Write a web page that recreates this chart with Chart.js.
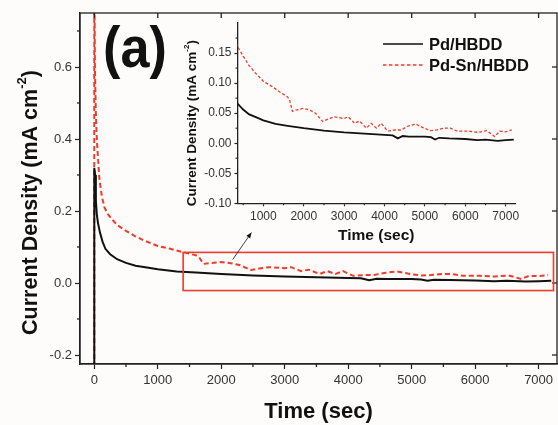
<!DOCTYPE html>
<html>
<head>
<meta charset="utf-8">
<script src="https://cdn.jsdelivr.net/npm/chart.js@4.4.0/dist/chart.umd.min.js"></script>
<style>
    html, body { margin: 0; padding: 0; background: #fdfcfa; }
    #wrap { position: relative; width: 558px; height: 425px; }
    #wrap canvas { position: absolute; left: 0; top: 0; }
</style>
</head>
<body>
<div id="wrap">
    <canvas id="main-chart" width="558" height="425"></canvas>
    <canvas id="inset-chart" width="558" height="425"></canvas>
</div>
<script>
// Pd/HBDD (black solid)
const pdTime = [0, 0, 15, 25, 40, 60, 90, 130, 175, 250, 360, 500, 650, 830, 1000, 1300, 1600, 2000, 2500, 3000,
    3500, 4000, 4200, 4330, 4450, 4600, 5000, 5150, 5250, 5350, 5600, 6000, 6300, 6500, 6800, 7000, 7200];
const pdCurrent = [-0.3, 0.32, 0.3, 0.23, 0.19, 0.165, 0.14, 0.115, 0.095, 0.08, 0.066, 0.056, 0.048, 0.043, 0.038, 0.032, 0.029, 0.025, 0.021, 0.018,
    0.016, 0.014, 0.013, 0.008, 0.012, 0.011, 0.011, 0.010, 0.006, 0.009, 0.008, 0.007, 0.005, 0.006, 0.004, 0.005, 0.006];

// Pd-Sn/HBDD (red dashed)
const pdSnTime = [0, 0, 10, 25, 40, 80, 120, 160, 220, 290, 360, 500, 640, 800, 1000, 1200, 1390, 1600, 1650, 1720,
    1800, 2000, 2150, 2290, 2470, 2600, 2750, 3000, 3100, 3260, 3380, 3550, 3670, 3800, 3920, 4080, 4250, 4410, 4570,
    4770, 4980, 5140, 5300, 5470, 5630, 5800, 6080, 6320, 6530, 6730, 6850, 7000, 7150];
const pdSnCurrent = [-0.3, 0.9, 0.6, 0.47, 0.4, 0.29, 0.24, 0.21, 0.19, 0.175, 0.161, 0.145, 0.13, 0.117, 0.103, 0.095, 0.086, 0.077, 0.072, 0.053,
    0.055, 0.058, 0.055, 0.050, 0.036, 0.040, 0.044, 0.041, 0.044, 0.033, 0.037, 0.025, 0.033, 0.025, 0.033, 0.020, 0.022, 0.022, 0.028,
    0.032, 0.025, 0.021, 0.022, 0.025, 0.025, 0.020, 0.020, 0.018, 0.021, 0.011, 0.020, 0.019, 0.022];

const seriesNames = ['Pd/HBDD', 'Pd-Sn/HBDD'];

// 主图刻度
const mainXTicks = [0, 1000, 2000, 3000, 4000, 5000, 6000, 7000];
const mainXMinor = [500, 1500, 2500, 3500, 4500, 5500, 6500];
const mainYTicks = [-0.2, 0.0, 0.2, 0.4, 0.6];
const mainYMinor = [-0.1, 0.1, 0.3, 0.5, 0.7];

// 插图刻度
const insetXTicks = [1000, 2000, 3000, 4000, 5000, 6000, 7000];
const insetXMinor = [500, 1500, 2500, 3500, 4500, 5500, 6500];
const insetYTicks = [-0.10, -0.05, 0.00, 0.05, 0.10, 0.15];
const insetYMinor = [-0.075, -0.025, 0.025, 0.075, 0.125, 0.175];

// 放大区域框 & 箭头 (数据坐标)
const zoomBoxX = [1400, 7235];
const zoomBoxY = [-0.021, 0.085];
const arrowX = [2180, 2476];
const arrowY = [0.065, 0.14];

const RED = '#ee3b2b';
const INK = '#111111';
const AXIS = '#222222';
const LABEL = '#333333';
const FONT = "'Liberation Sans', Arial, sans-serif";

function toPoints(xs, ys) {
    return xs.map((x, i) => ({ x: x, y: ys[i] }));
}

function setTicks(values) {
    return scale => { scale.ticks = values.map(v => ({ value: v })); };
}

function line(ctx, x1, y1, x2, y2) {
    ctx.beginPath();
    ctx.moveTo(x1, y1);
    ctx.lineTo(x2, y2);
    ctx.stroke();
}

// 竖排标题，带上标 -2
function drawYTitle(ctx, cx, cy, size) {
    const supSize = Math.round(size * 0.62);
    const parts = [
        { text: 'Current Density (mA cm', font: `bold ${size}px ${FONT}`, dy: 0 },
        { text: '-2', font: `bold ${supSize}px ${FONT}`, dy: -size * 0.42 },
        { text: ')', font: `bold ${size}px ${FONT}`, dy: 0 }
    ];
    ctx.save();
    ctx.translate(cx, cy);
    ctx.rotate(-Math.PI / 2);
    ctx.fillStyle = INK;
    ctx.textBaseline = 'middle';
    ctx.textAlign = 'left';
    let total = 0;
    parts.forEach(p => { ctx.font = p.font; p.w = ctx.measureText(p.text).width; total += p.w; });
    let x = -total / 2;
    parts.forEach(p => {
        ctx.font = p.font;
        ctx.fillText(p.text, x, p.dy);
        x += p.w;
    });
    ctx.restore();
}

function drawText(ctx, text, x, y, font, align, sx) {
    ctx.save();
    ctx.translate(x, y);
    ctx.scale(sx || 1, 1);
    ctx.font = font;
    ctx.fillStyle = INK;
    ctx.textAlign = align || 'center';
    ctx.textBaseline = 'middle';
    ctx.fillText(text, 0, 0);
    ctx.restore();
}

const mainDecor = {
    id: 'mainDecor',
    afterDraw(chart) {
        const { ctx, chartArea: a, scales: { x, y } } = chart;
        ctx.save();
        ctx.strokeStyle = AXIS;
        ctx.lineWidth = 1.3;
        // 边框
        ctx.strokeRect(a.left, a.top, a.right - a.left, a.bottom - a.top);
        // 次刻度 (朝外)
        mainXMinor.forEach(v => { const p = x.getPixelForValue(v); line(ctx, p, a.bottom, p, a.bottom + 3); });
        mainYMinor.forEach(v => { const p = y.getPixelForValue(v); line(ctx, a.left, p, a.left - 3, p); });
        // 上、右刻度 (朝内)
        mainXTicks.forEach(v => { const p = x.getPixelForValue(v); line(ctx, p, a.top, p, a.top + 5); });
        mainYTicks.forEach(v => { const p = y.getPixelForValue(v); line(ctx, a.right, p, a.right - 5, p); });
        ctx.restore();

        // 放大框
        ctx.save();
        ctx.strokeStyle = RED;
        ctx.lineWidth = 1.6;
        const bx1 = x.getPixelForValue(zoomBoxX[0]), bx2 = x.getPixelForValue(zoomBoxX[1]);
        const by1 = y.getPixelForValue(zoomBoxY[1]), by2 = y.getPixelForValue(zoomBoxY[0]);
        ctx.strokeRect(bx1, by1, bx2 - bx1, by2 - by1);
        ctx.restore();

        // 箭头
        ctx.save();
        ctx.strokeStyle = INK;
        ctx.fillStyle = INK;
        ctx.lineWidth = 0.8;
        const ax1 = x.getPixelForValue(arrowX[0]), ay1 = y.getPixelForValue(arrowY[0]);
        const ax2 = x.getPixelForValue(arrowX[1]), ay2 = y.getPixelForValue(arrowY[1]);
        line(ctx, ax1, ay1, ax2, ay2);
        const ang = Math.atan2(ay2 - ay1, ax2 - ax1);
        ctx.beginPath();
        ctx.moveTo(ax2, ay2);
        ctx.lineTo(ax2 - 6 * Math.cos(ang - 0.4), ay2 - 6 * Math.sin(ang - 0.4));
        ctx.lineTo(ax2 - 6 * Math.cos(ang + 0.4), ay2 - 6 * Math.sin(ang + 0.4));
        ctx.closePath();
        ctx.fill();
        ctx.restore();

        // 标题
        drawYTitle(ctx, 31, (a.top + a.bottom) / 2 + 14, 21.5);
        drawText(ctx, 'Time (sec)', (a.left + a.right) / 2, a.bottom + 48, `bold 22px ${FONT}`);
        drawText(ctx, '(a)', 135, 51, `bold 58px ${FONT}`, 'center', 0.9);
    }
};

const insetDecor = {
    id: 'insetDecor',
    afterDraw(chart) {
        const { ctx, chartArea: a, scales: { x, y } } = chart;
        ctx.save();
        ctx.strokeStyle = AXIS;
        ctx.lineWidth = 1.1;
        insetXMinor.forEach(v => { const p = x.getPixelForValue(v); line(ctx, p, a.bottom, p, a.bottom + 2); });
        insetYMinor.forEach(v => { const p = y.getPixelForValue(v); line(ctx, a.left, p, a.left - 2, p); });
        ctx.restore();

        // 图例
        ctx.save();
        ctx.lineWidth = 1.6;
        ctx.strokeStyle = INK;
        line(ctx, 383, 44, 423, 44);
        ctx.strokeStyle = RED;
        ctx.lineWidth = 1.3;
        ctx.setLineDash([3.5, 2.5]);
        line(ctx, 383, 65, 423, 65);
        ctx.restore();
        drawText(ctx, seriesNames[0], 429, 45, `bold 16.5px ${FONT}`, 'left');
        drawText(ctx, seriesNames[1], 429, 66, `bold 16.5px ${FONT}`, 'left');

        drawYTitle(ctx, 192, (a.top + a.bottom) / 2 + 10, 13.5);
        drawText(ctx, 'Time (sec)', (a.left + a.right) / 2, a.bottom + 32, `bold 15.5px ${FONT}`);
    }
};

function axisOptions(min, max, ticks, fit, fontSize, tickLen, fmt, pad) {
    return {
        type: 'linear',
        min: min,
        max: max,
        afterBuildTicks: setTicks(ticks),
        afterFit: fit,
        grid: { drawOnChartArea: false, tickLength: tickLen, color: AXIS, tickWidth: 1.2 },
        border: { color: AXIS, width: 1.3 },
        ticks: {
            font: { family: FONT, size: fontSize },
            color: LABEL,
            padding: pad,
            autoSkip: false,
            maxRotation: 0,
            callback: fmt
        }
    };
}

// 主图
new Chart(document.getElementById('main-chart'), {
    type: 'line',
    data: {
        datasets: [
            {
                label: seriesNames[0],
                data: toPoints(pdTime, pdCurrent),
                borderColor: INK,
                borderWidth: 2,
                pointRadius: 0,
                tension: 0
            },
            {
                label: seriesNames[1],
                data: toPoints(pdSnTime, pdSnCurrent),
                borderColor: RED,
                borderWidth: 2,
                borderDash: [5, 3],
                pointRadius: 0,
                tension: 0
            }
        ]
    },
    options: {
        responsive: false,
        animation: false,
        events: [],
        layout: { padding: { top: 13, right: 1, left: 0, bottom: 0 } },
        plugins: { legend: { display: false }, tooltip: { enabled: false } },
        scales: {
            x: axisOptions(-225, 7290, mainXTicks, s => { s.height = 61; }, 13, 5, v => String(v), 4),
            y: axisOptions(-0.225, 0.75, mainYTicks, s => { s.width = 80; }, 13, 5, v => v.toFixed(1), 3)
        }
    },
    plugins: [mainDecor]
});

// 插图
new Chart(document.getElementById('inset-chart'), {
    type: 'line',
    data: {
        datasets: [
            {
                label: seriesNames[0],
                data: toPoints(pdTime, pdCurrent),
                borderColor: INK,
                borderWidth: 1.8,
                pointRadius: 0,
                tension: 0
            },
            {
                label: seriesNames[1],
                data: toPoints(pdSnTime, pdSnCurrent),
                borderColor: RED,
                borderWidth: 1.3,
                borderDash: [3, 2],
                pointRadius: 0,
                tension: 0
            }
        ]
    },
    options: {
        responsive: false,
        animation: false,
        events: [],
        layout: { padding: { top: 23, right: 43, left: 180, bottom: 191.7 } },
        plugins: { legend: { display: false }, tooltip: { enabled: false } },
        scales: {
            x: axisOptions(360, 7230, insetXTicks, s => { s.height = 30; }, 12, 3, v => String(v), 3),
            y: axisOptions(-0.10, 0.20, insetYTicks, s => { s.width = 57.5; }, 12, 3, v => v.toFixed(2), 3)
        }
    },
    plugins: [insetDecor]
});
</script>
</body>
</html>
